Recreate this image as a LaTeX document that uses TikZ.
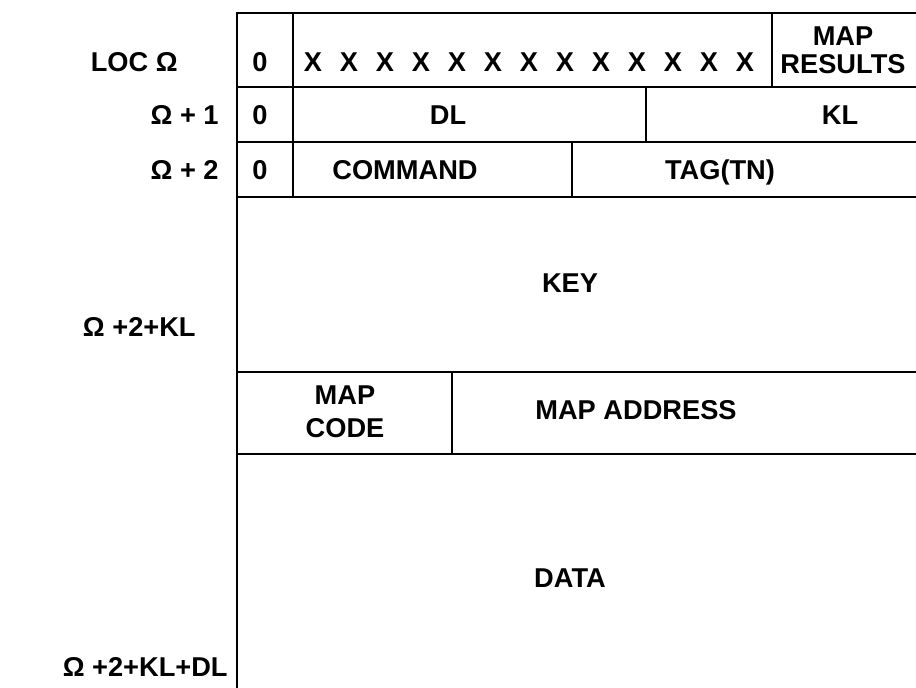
\documentclass[tikz,border=0pt]{standalone}
\usepackage{fontspec}
\setmainfont{Liberation Sans}
\begin{document}
\begin{tikzpicture}[x=0.02cm, y=-0.02cm,
  field/.style={font=\bfseries\fontsize{15.5}{17}\selectfont, inner sep=0pt,
    text height=11pt, text depth=0pt},
  twoline/.style={field, align=center, text height=, text depth=,
    font=\bfseries\fontsize{15.5}{16}\selectfont},
  rule/.style={line width=1.2pt, line cap=rect}]
\useasboundingbox (0,0) rectangle (916,687);

% Outer frame and the row rules of the request block; the block runs off
% the right edge, so no right border is drawn.
\draw[rule] (916,13) -- (237,13) -- (237,687);
\draw[rule] (237,87) -- (916,87);
\draw[rule] (237,142) -- (916,142);
\draw[rule] (237,197) -- (916,197);
\draw[rule] (237,372) -- (916,372);
\draw[rule] (237,454) -- (916,454);

% Column dividers inside the header words.
\draw[rule] (293,13) -- (293,197);
\draw[rule] (772,13) -- (772,87);
\draw[rule] (646,87) -- (646,142);
\draw[rule] (572,142) -- (572,197);
\draw[rule] (452,372) -- (452,454);

% Addresses on the left.
\node[field, anchor=east] (loc) at (178,62) {LOC Ω};
\node[field, anchor=east] (locone) at (219,115) {Ω + 1};
\node[field, anchor=east] (loctwo) at (219,170) {Ω + 2};
\node[field, anchor=east] (lockey) at (196,327) {Ω +2+KL};
\node[field, anchor=east] (locdata) at (228,667) {Ω +2+KL+DL};

% First three words.
\node[field] (zeroa) at (260,62) {0};
\node[field] (zerob) at (260,115) {0};
\node[field] (zeroc) at (260,170) {0};
\foreach \i in {0,...,12}
  \node[field] (x\i) at (313+36*\i,62) {X};
\node[twoline] (mapres) at (843,50) {MAP\\RESULTS};
\node[field] (dl) at (448,115) {DL};
\node[field] (kl) at (840,115) {KL};
\node[field] (cmd) at (405,170) {COMMAND};
\node[field] (tag) at (720,170) {TAG(TN)};

% Key, map fields and data.
\node[field] (key) at (570,283) {KEY};
\node[twoline, font=\bfseries\fontsize{15.5}{19}\selectfont] (mapcode) at (345,412) {MAP\\CODE};
\node[field] (mapaddr) at (636,410) {MAP ADDRESS};
\node[field] (data) at (570,578) {DATA};
\end{tikzpicture}
\end{document}
